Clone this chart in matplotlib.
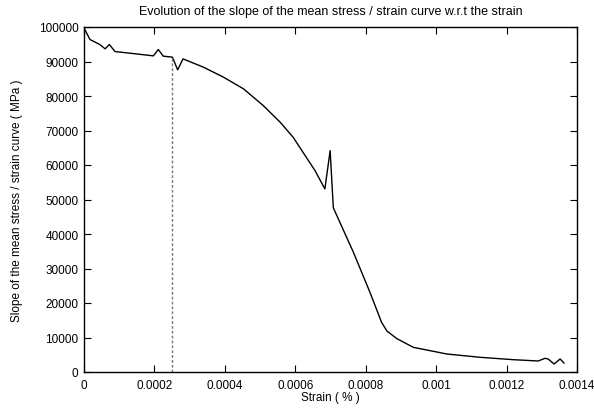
import matplotlib
matplotlib.use("Agg")
import matplotlib.pyplot as plt

plt.rcParams['font.family'] = ['Liberation Sans', 'DejaVu Sans']

strain = [0.0, 1.7e-5, 4.5e-5, 6.0e-5, 7.2e-5, 8.8e-5, 1.97e-4, 2.11e-4, 2.25e-4,
          2.51e-4, 2.66e-4, 2.81e-4, 3.39e-4, 3.96e-4, 4.53e-4, 5.09e-4, 5.57e-4,
          5.94e-4, 6.28e-4, 6.56e-4, 6.84e-4, 6.99e-4, 7.08e-4, 7.65e-4, 8.12e-4,
          8.45e-4, 8.60e-4, 8.88e-4, 9.35e-4, 1.03e-3, 1.125e-3, 1.219e-3, 1.29e-3,
          1.309e-3, 1.318e-3, 1.335e-3, 1.352e-3, 1.363e-3]
slope = [99700, 96370, 94920, 93670, 94920, 92890, 91640, 93470, 91550,
         91260, 87580, 90770, 88360, 85460, 82070, 77230, 72410,
         68030, 62730, 58380, 53070, 64170, 47600, 34710, 23110,
         14410, 11900, 9700, 7160, 5220, 4260, 3570, 3190,
         3970, 3770, 2320, 3770, 2610]

marker_strain = 0.00025
marker_slope = 91260

xticks = [0, 0.0002, 0.0004, 0.0006, 0.0008, 0.001, 0.0012, 0.0014]
xticklabels = ["0", "0.0002", "0.0004", "0.0006", "0.0008", "0.001", "0.0012", "0.0014"]
yticks = [0, 10000, 20000, 30000, 40000, 50000, 60000, 70000, 80000, 90000, 100000]
yticklabels = [str(v) for v in yticks]

fig = plt.figure(figsize=(5.94, 4.10), dpi=100)
ax = fig.add_axes([84/594, 1-373/410, (577-84)/594, (373-28)/410])

ax.plot(strain, slope, color='black', lw=1.0)
ax.plot([marker_strain, marker_strain], [0, marker_slope], color='#777777', lw=1.0,
        linestyle=(0, (2, 1.5)))

ax.set_xlim(0, 0.0014)
ax.set_ylim(0, 100000)
ax.set_xticks(xticks)
ax.set_xticklabels(xticklabels)
ax.set_yticks(yticks)
ax.set_yticklabels(yticklabels)
ax.tick_params(direction='in', length=5, width=0.8, top=True, right=True,
               labelsize=8.5, pad=5)
ax.tick_params(axis='x', pad=5)
ax.tick_params(axis='y', pad=4)
for s in ax.spines.values():
    s.set_linewidth(1.0)

ax.set_title("Evolution of the slope of the mean stress / strain curve w.r.t the strain",
             fontsize=9, pad=9)
ax.set_xlabel("Strain ( % )", fontsize=8.5, labelpad=0)
ax.set_ylabel("Slope of the mean stress / strain curve ( MPa )", fontsize=8.5, labelpad=11)

fig.savefig("out.png", dpi=100)
